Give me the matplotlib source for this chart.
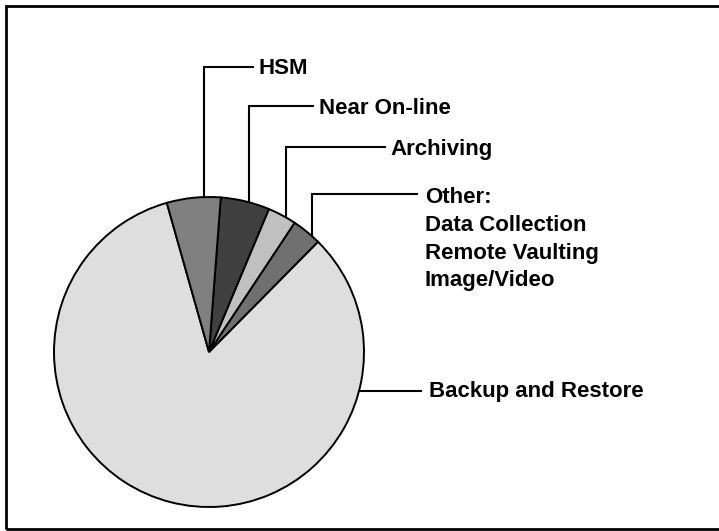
import numpy as np
import matplotlib
matplotlib.use("Agg")
import matplotlib.pyplot as plt
from matplotlib.patches import Rectangle

# Data (share of usage, %)
categories = ["Backup and Restore", "Other", "Archiving", "Near On-line", "HSM"]
values = [83.2, 3.1, 3.0, 5.1, 5.6]
colors = ["#dedede", "#707070", "#c0c0c0", "#404040", "#808080"]
other_lines = ["Other:", "Data Collection", "Remote Vaulting", "Image/Video"]

W, H = 719, 531
fig = plt.figure(figsize=(W / 100, H / 100), dpi=100)
ax = fig.add_axes([0, 0, 1, 1])

FONT = dict(family=["Liberation Sans", "DejaVu Sans"], fontweight="bold",
            fontsize=16, color="black")

def py(y):
    return H - y

cx, cy, r = 209, py(352), 155
ax.pie(values, colors=colors, startangle=105.8, counterclock=True,
       center=(cx, cy), radius=r, frame=True,
       wedgeprops=dict(edgecolor="black", linewidth=1.4))
ax.set_xlim(0, W)
ax.set_ylim(0, H)
ax.set_aspect("equal")
ax.axis("off")

def rim_y(x):
    return cy + np.sqrt(r ** 2 - (x - cx) ** 2)

lw = 1.5
# vertical-then-horizontal leaders: (x of vertical, y of horizontal, x end, text x, label)
leaders = [(204, 67, 253, 258, "HSM"),
           (249, 106, 313, 319, "Near On-line"),
           (286, 147, 385, 390, "Archiving"),
           (312, 194, 417, 425, None)]
for xv, yh, xe, xt, lab in leaders:
    ax.plot([xv, xv, xe], [rim_y(xv), py(yh), py(yh)], color="black", lw=lw,
            solid_joinstyle="miter")
    if lab:
        ax.text(xt, py(yh + 7.5), lab, ha="left", va="baseline", **FONT)

for i, line in enumerate(other_lines):
    ax.text(425, py(203 + i * 27.8), line, ha="left", va="baseline", **FONT)

# Backup and Restore leader
yb = 390.5
xb = cx + np.sqrt(r ** 2 - (py(yb) - cy) ** 2)
ax.plot([xb, 421], [py(yb), py(yb)], color="black", lw=lw)
ax.text(429, py(yb + 6.5), categories[0], ha="left", va="baseline", **FONT)

# outer frame (right edge falls outside the picture)
ax.add_patch(Rectangle((5.5, py(529)), 730, 523.5, fill=False, edgecolor="black",
                       lw=2, clip_on=False))

fig.savefig("out.png", dpi=100)
